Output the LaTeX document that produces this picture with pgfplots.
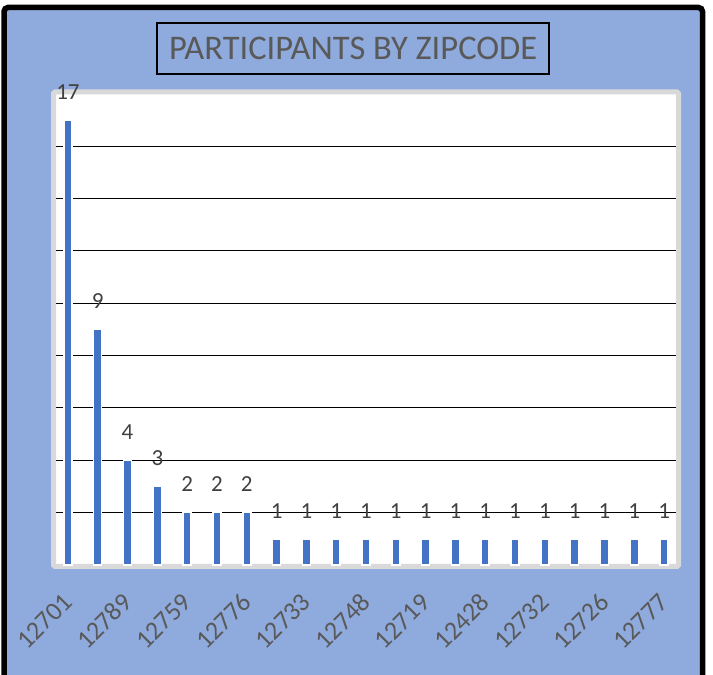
\documentclass[border=0pt]{standalone}
\usepackage{fontspec}
\setmainfont{Carlito}
\usepackage{pgfplots}
\pgfplotsset{compat=1.18}

\definecolor{bgblue}{HTML}{8FAADC}
\definecolor{barblue}{HTML}{4472C4}
\definecolor{framegray}{HTML}{D9D9D9}
\definecolor{labelgray}{HTML}{595959}
\definecolor{valgray}{HTML}{404040}

\begin{document}
\begin{tikzpicture}[x=1pt,y=1pt]
\useasboundingbox (0,0) rectangle (713,675);
\clip (0,0) rectangle (713,675);
\fill[white] (0,0) rectangle (713,675);
% chart area
\draw[line width=5.5pt, fill=bgblue, rounded corners=4pt] (4,667.5) rectangle (702.5,-30);
% title box
\node[draw=black, line width=2pt, inner sep=0pt, minimum width=392pt, minimum height=51pt,
      text=labelgray, font=\fontsize{34.5}{40}\selectfont] at (353.2,626.5)
  {PARTICIPANTS BY ZIPCODE};
% plot area
\draw[line width=5pt, draw=framegray, fill=white, rounded corners=1.5pt] (53.5,583) rectangle (678.5,108.5);

\begin{axis}[
  at={(56pt,110pt)}, anchor=south west,
  width=620pt, height=471pt, scale only axis,
  xmin=-0.4, xmax=20.4, ymin=0, ymax=18,
  axis line style={draw=none},
  ytick={2,4,...,16}, yticklabels={},
  ymajorgrids, major grid style={black, line width=1pt},
  major tick length=0pt,
  xtick={0,2,...,20},
  xticklabels={12701,12789,12759,12776,12733,12748,12719,12428,12732,12726,12777},
  xticklabel style={yshift=-33pt, rotate=45, anchor=east, inner sep=0pt,
    text=labelgray, font=\fontsize{26}{30}\selectfont},
  /pgf/number format/assume math mode=true,
  clip=false,
  ybar, bar width=8pt,
  nodes near coords,
  every node near coord/.append style={anchor=south, inner sep=0pt, yshift=20pt,
    text=valgray, font=\fontsize{23}{27}\selectfont},
]
\addplot[fill=barblue, draw=white, line width=1.5pt] coordinates {
  (0,17) (1,9) (2,4) (3,3) (4,2) (5,2) (6,2)
  (7,1) (8,1) (9,1) (10,1) (11,1) (12,1) (13,1)
  (14,1) (15,1) (16,1) (17,1) (18,1) (19,1) (20,1)
};
\end{axis}
\end{tikzpicture}
\end{document}
